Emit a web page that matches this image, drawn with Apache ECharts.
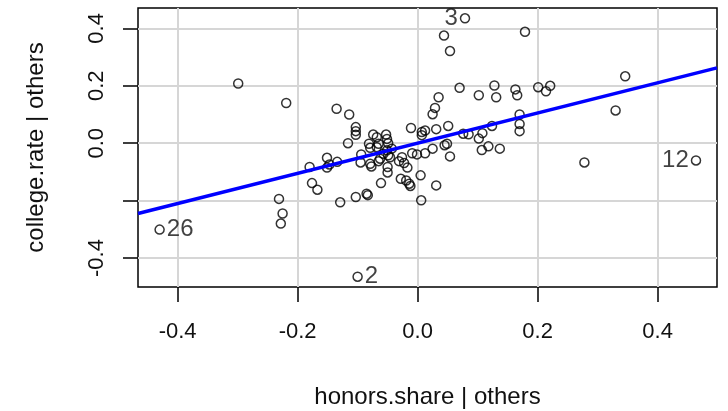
<!DOCTYPE html>
<html>
<head>
<meta charset="utf-8">
<script src="https://cdn.jsdelivr.net/npm/echarts@6/dist/echarts.min.js"></script>
<style>
  html, body { margin: 0; padding: 0; background: #fff; }
  #chart { width: 728px; height: 411px; }
</style>
</head>
<body>
<div id="chart"></div>
<script>
// residuals of honors.share | others (x) and college.rate | others (y)
const xVals = [
  -0.299, -0.219, -0.135, -0.114, -0.103, -0.103, -0.103, -0.116, 0.044, 0.054,
  0.179, 0.070, 0.035, 0.029, 0.025, 0.102, 0.128, 0.131, 0.163, 0.166,
  0.201, 0.214, 0.221, 0.346, 0.330, 0.170, 0.170, 0.170, -0.011, 0.007,
  0.0125, 0.031, 0.051, 0.076, 0.085, 0.102, 0.108, 0.124, 0.007, 0.045,
  0.049, 0.118, 0.137, 0.107, 0.278, 0.054, 0.005, 0.031, 0.006, -0.014,
  -0.019, -0.028, -0.017, -0.0225, -0.031, -0.009, -0.001, 0.0125, 0.025, -0.026,
  -0.231, -0.225, -0.228, -0.180, -0.176, -0.167, -0.151, -0.147, -0.151, -0.134,
  -0.129, -0.103, -0.085, -0.083, -0.061, -0.094, -0.095, -0.079, -0.077, -0.065,
  -0.050, -0.050, -0.057, -0.049, -0.051, -0.081, -0.079, -0.068, -0.074, -0.068,
  -0.0525, -0.051, -0.065, -0.049, -0.043, -0.046, -0.0625, -0.012
];
const yVals = [
  0.208, 0.140, 0.120, 0.100, 0.056, 0.042, 0.029, 0.000, 0.375, 0.321,
  0.388, 0.193, 0.160, 0.123, 0.101, 0.167, 0.201, 0.160, 0.1875, 0.167,
  0.195, 0.181, 0.200, 0.233, 0.114, 0.100, 0.067, 0.042, 0.053, 0.039,
  0.044, 0.049, 0.060, 0.033, 0.031, 0.016, 0.035, 0.060, 0.028, -0.007,
  -0.002, -0.011, -0.019, -0.024, -0.067, -0.046, -0.112, -0.147, -0.199, -0.141,
  -0.130, -0.124, -0.085, -0.069, -0.0625, -0.035, -0.039, -0.035, -0.019, -0.049,
  -0.194, -0.245, -0.280, -0.083, -0.139, -0.162, -0.051, -0.074, -0.085, -0.065,
  -0.206, -0.1875, -0.176, -0.181, -0.139, -0.039, -0.067, -0.072, -0.081, -0.0625,
  -0.083, -0.102, -0.037, -0.042, -0.025, -0.002, -0.016, -0.014, 0.030, 0.021,
  0.030, 0.015, -0.002, 0.000, -0.019, -0.049, -0.054, -0.149
];
// identified points
const idX = [0.079, -0.430, -0.100, 0.464];
const idY = [0.435, -0.301, -0.465, -0.060];
const idText = ['3', '26', '2', '12'];
const idSide = ['left', 'right', 'right', 'left'];

const tickVals = [-0.4, -0.2, 0.0, 0.2, 0.4];
const yLabelVals = [-0.4, 0.0, 0.2, 0.4]; // -0.2 is dropped in the original
const xRange = [-0.466, 0.499];
const yRange = [-0.501, 0.471];
const fitSlope = 0.526;

const font = "'Liberation Sans', Arial, sans-serif";
const chart = echarts.init(document.getElementById('chart'), null, { renderer: 'canvas' });

const axisCommon = {
  type: 'value',
  axisLine: { show: false, onZero: false },
  axisTick: { show: true, customValues: tickVals, length: 15, lineStyle: { color: '#000', width: 1.5 } },
  axisLabel: {
    customValues: tickVals,
    color: '#111', fontFamily: font, fontSize: 22,
    formatter: v => v.toFixed(1)
  },
  splitLine: { show: false },
  nameLocation: 'middle',
  nameTextStyle: { color: '#111', fontFamily: font, fontSize: 24 }
};

const gridLines = [
  ...tickVals.map(v => ({ xAxis: v })),
  ...tickVals.map(v => ({ yAxis: v }))
];

const pointStyle = { color: 'rgba(0,0,0,0)', borderColor: '#000', borderWidth: 1.5 };

chart.setOption({
  animation: false,
  grid: {
    left: 138, right: 11, top: 8, bottom: 124,
    outerBoundsMode: 'none', containLabel: false,
    show: true, borderColor: '#000', borderWidth: 1.5, backgroundColor: 'transparent'
  },
  xAxis: Object.assign({}, axisCommon, {
    min: xRange[0], max: xRange[1],
    name: 'honors.share | others', nameGap: 98,
    axisLabel: Object.assign({}, axisCommon.axisLabel, { margin: 34 })
  }),
  yAxis: Object.assign({}, axisCommon, {
    min: yRange[0], max: yRange[1],
    name: 'college.rate | others', nameGap: 90, nameRotate: 90,
    axisLabel: Object.assign({}, axisCommon.axisLabel, { customValues: yLabelVals, rotate: 90, margin: 30 })
  }),
  series: [
    {
      type: 'line',
      data: [],
      silent: true,
      markLine: {
        silent: true, symbol: 'none', label: { show: false },
        lineStyle: { color: '#d6d6d6', width: 2, type: 'solid' },
        data: gridLines,
        z: 0
      }
    },
    {
      type: 'scatter',
      data: xVals.map((x, i) => [x, yVals[i]]),
      symbol: 'circle', symbolSize: 9,
      itemStyle: pointStyle, z: 3
    },
    {
      type: 'scatter',
      data: idX.map((x, i) => ({
        value: [x, idY[i]],
        label: { show: true, formatter: idText[i], position: idSide[i], distance: 2 }
      })),
      symbol: 'circle', symbolSize: 9,
      itemStyle: pointStyle,
      label: { color: '#111', fontFamily: font, fontSize: 24 },
      z: 3
    },
    {
      type: 'line',
      data: xRange.map(x => [x, fitSlope * x]),
      symbol: 'none', clip: true,
      lineStyle: { color: '#0000ff', width: 3.5 },
      z: 4
    }
  ]
});
</script>
</body>
</html>
